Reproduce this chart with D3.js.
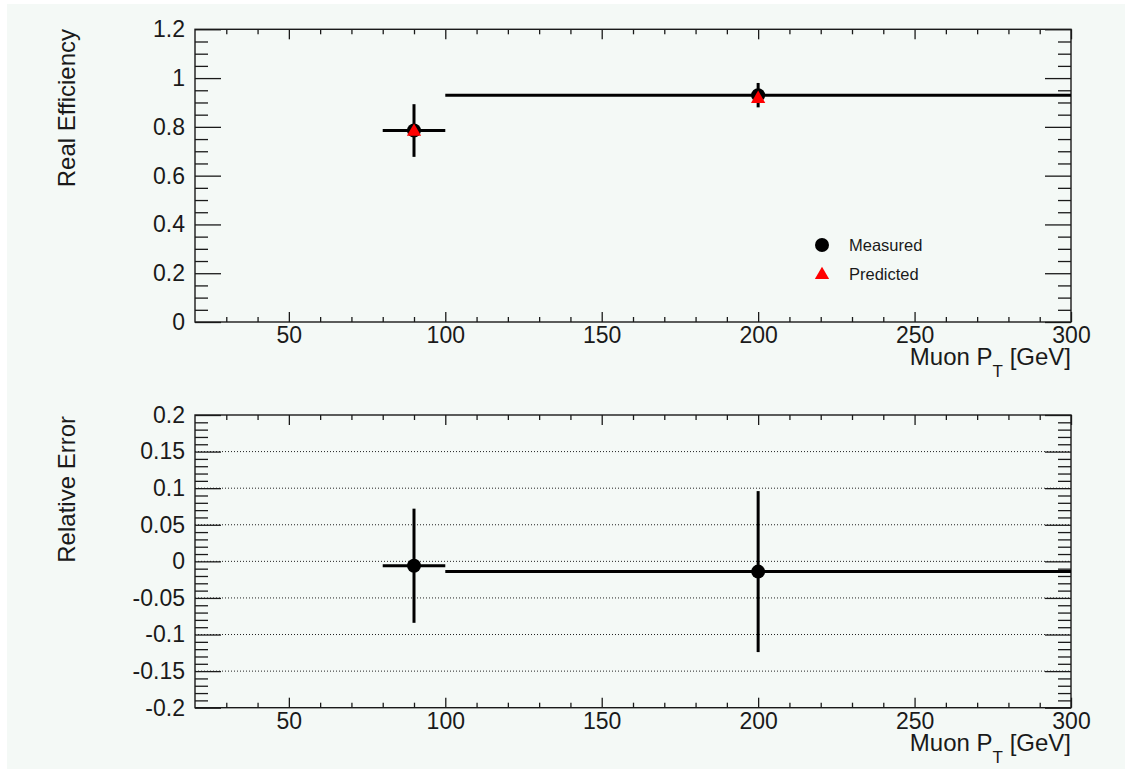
<!DOCTYPE html>
<html>
<head>
<meta charset="utf-8">
<script src="https://cdn.jsdelivr.net/npm/d3@7"></script>
<style>
  html, body { margin: 0; padding: 0; background: #ffffff; }
  svg { display: block; }
  text { font-family: "Liberation Sans", Arial, Helvetica, sans-serif; fill: #1a1a1a; }
</style>
</head>
<body>
<svg id="chart" width="1132" height="775"></svg>
<script>
// ---------------- data ----------------
const binCenters   = [90, 200];
const binLow       = [80, 100];
const binHigh      = [100, 300];

const measuredEff    = [0.785, 0.930];
const measuredEffErr = [0.108, 0.050];
const predictedEff   = [0.780, 0.915];

const relError    = [-0.006, -0.014];
const relErrorErr = [0.078, 0.110];

const xMajorTicks = [50, 100, 150, 200, 250, 300];
const xTickLabels = ["50", "100", "150", "200", "250", "300"];

const yTopMajorTicks = [0, 0.2, 0.4, 0.6, 0.8, 1.0, 1.2];
const yTopTickLabels = ["0", "0.2", "0.4", "0.6", "0.8", "1", "1.2"];

const yBotMajorTicks = [-0.2, -0.15, -0.1, -0.05, 0, 0.05, 0.1, 0.15, 0.2];
const yBotTickLabels = ["-0.2", "-0.15", "-0.1", "-0.05", "0", "0.05", "0.1", "0.15", "0.2"];
const yBotGridLines  = [-0.15, -0.1, -0.05, 0, 0.05, 0.1, 0.15];

const legendLabels = ["Measured", "Predicted"];

// ---------------- layout ----------------
const svg = d3.select("#chart");
svg.append("rect").attr("x", 7).attr("y", 4).attr("width", 1118).attr("height", 765)
   .attr("fill", "#f4f9f6");

const X0 = 195, X1 = 1071;
const panelTop = { y0: 29.3, y1: 322 };
const panelBot = { y0: 415, y1: 707.7 };

const x = d3.scaleLinear().domain([20, 300]).range([X0, X1]);
const yTop = d3.scaleLinear().domain([0, 1.2]).range([panelTop.y1, panelTop.y0]);
const yBot = d3.scaleLinear().domain([-0.2, 0.2]).range([panelBot.y1, panelBot.y0]);

const xMinor = d3.range(30, 300, 10).filter(v => v % 50 !== 0);
const yTopMinor = d3.range(0, 1.2001, 0.05).map(v => +v.toFixed(3)).filter(v => Math.abs(v / 0.2 - Math.round(v / 0.2)) > 1e-6);
const yBotMinor = d3.range(-0.2, 0.2001, 0.01).map(v => +v.toFixed(3)).filter(v => Math.abs(v / 0.05 - Math.round(v / 0.05)) > 1e-6);

const TICK_FONT = 23;

function styleAxis(g) {
  g.select(".domain").remove();
  g.selectAll(".tick line").attr("stroke", "#1a1a1a").attr("stroke-width", 1.3);
  g.selectAll(".tick text").style("font-size", TICK_FONT + "px").attr("fill", "#1a1a1a");
}

function drawFrame(yScale, yr, yMajor, yLabels, yMinor) {
  const g = svg.append("g");
  g.append("g").attr("transform", `translate(0,${yr.y1})`)
    .call(d3.axisBottom(x).tickValues(xMajorTicks).tickFormat((d, i) => xTickLabels[i]).tickSize(-10).tickPadding(4.5))
    .call(styleAxis);
  g.append("g").attr("transform", `translate(0,${yr.y1})`)
    .call(d3.axisBottom(x).tickValues(xMinor).tickFormat("").tickSize(-5))
    .call(styleAxis);
  g.append("g").attr("transform", `translate(0,${yr.y0})`)
    .call(d3.axisTop(x).tickValues(xMajorTicks).tickFormat("").tickSize(-10))
    .call(styleAxis);
  g.append("g").attr("transform", `translate(0,${yr.y0})`)
    .call(d3.axisTop(x).tickValues(xMinor).tickFormat("").tickSize(-5))
    .call(styleAxis);
  g.append("g").attr("transform", `translate(${X0},0)`)
    .call(d3.axisLeft(yScale).tickValues(yMajor).tickFormat((d, i) => yLabels[i]).tickSize(-26).tickPadding(10))
    .call(styleAxis);
  g.append("g").attr("transform", `translate(${X0},0)`)
    .call(d3.axisLeft(yScale).tickValues(yMinor).tickFormat("").tickSize(-13))
    .call(styleAxis);
  g.append("g").attr("transform", `translate(${X1},0)`)
    .call(d3.axisRight(yScale).tickValues(yMajor).tickFormat("").tickSize(-26))
    .call(styleAxis);
  g.append("g").attr("transform", `translate(${X1},0)`)
    .call(d3.axisRight(yScale).tickValues(yMinor).tickFormat("").tickSize(-13))
    .call(styleAxis);
  g.append("rect").attr("x", X0).attr("y", yr.y0).attr("width", X1 - X0).attr("height", yr.y1 - yr.y0)
    .attr("fill", "none").attr("stroke", "#1a1a1a").attr("stroke-width", 1.4);
}

function xTitle(yBase) {
  const t = svg.append("text").attr("x", X1).attr("y", yBase).attr("text-anchor", "end")
    .style("font-size", "24px").style("white-space", "pre");
  t.append("tspan").text("Muon P");
  t.append("tspan").text("T").style("font-size", "17px").attr("dy", 12);
  t.append("tspan").text(" [GeV]").attr("dy", -12);
}

function yTitle(label, yTopEdge) {
  svg.append("text").attr("transform", `translate(75,${yTopEdge}) rotate(-90)`)
    .attr("text-anchor", "end").style("font-size", "24px").text(label);
}

// ---------------- top panel ----------------
drawFrame(yTop, panelTop, yTopMajorTicks, yTopTickLabels, yTopMinor);
xTitle(365);
yTitle("Real Efficiency", 29);

const gTop = svg.append("g");
binCenters.forEach((c, i) => {
  gTop.append("line").attr("x1", x(binLow[i])).attr("x2", x(binHigh[i]))
    .attr("y1", yTop(measuredEff[i])).attr("y2", yTop(measuredEff[i]))
    .attr("stroke", "#000").attr("stroke-width", 3);
  gTop.append("line").attr("x1", x(c)).attr("x2", x(c))
    .attr("y1", yTop(measuredEff[i] - measuredEffErr[i])).attr("y2", yTop(measuredEff[i] + measuredEffErr[i]))
    .attr("stroke", "#000").attr("stroke-width", 3);
});
gTop.selectAll("circle.meas").data(binCenters).join("circle").attr("class", "meas")
  .attr("cx", d => x(d)).attr("cy", (d, i) => yTop(measuredEff[i])).attr("r", 7).attr("fill", "#000");
const tri = d3.symbol().type(d3.symbolTriangle).size(88);
gTop.selectAll("path.pred").data(binCenters).join("path").attr("class", "pred")
  .attr("d", tri).attr("transform", (d, i) => `translate(${x(d)},${yTop(predictedEff[i])})`)
  .attr("fill", "#ff0000");

const lg = svg.append("g");
lg.append("circle").attr("cx", 822).attr("cy", 245).attr("r", 7).attr("fill", "#000");
lg.append("path").attr("d", tri).attr("transform", "translate(822,275)").attr("fill", "#ff0000");
lg.append("text").attr("x", 849).attr("y", 251).style("font-size", "16.5px").text(legendLabels[0]);
lg.append("text").attr("x", 849).attr("y", 280).style("font-size", "16.5px").text(legendLabels[1]);

// ---------------- bottom panel ----------------
svg.append("g").selectAll("line").data(yBotGridLines).join("line")
  .attr("x1", X0).attr("x2", X1).attr("y1", d => yBot(d)).attr("y2", d => yBot(d))
  .attr("stroke", "#222").attr("stroke-width", 1).attr("stroke-dasharray", "1,2");
drawFrame(yBot, panelBot, yBotMajorTicks, yBotTickLabels, yBotMinor);
xTitle(751);
yTitle("Relative Error", 416);

const gBot = svg.append("g");
binCenters.forEach((c, i) => {
  gBot.append("line").attr("x1", x(binLow[i])).attr("x2", x(binHigh[i]))
    .attr("y1", yBot(relError[i])).attr("y2", yBot(relError[i]))
    .attr("stroke", "#000").attr("stroke-width", 3);
  gBot.append("line").attr("x1", x(c)).attr("x2", x(c))
    .attr("y1", yBot(relError[i] - relErrorErr[i])).attr("y2", yBot(relError[i] + relErrorErr[i]))
    .attr("stroke", "#000").attr("stroke-width", 3);
});
gBot.selectAll("circle").data(binCenters).join("circle")
  .attr("cx", d => x(d)).attr("cy", (d, i) => yBot(relError[i])).attr("r", 7).attr("fill", "#000");
</script>
</body>
</html>
